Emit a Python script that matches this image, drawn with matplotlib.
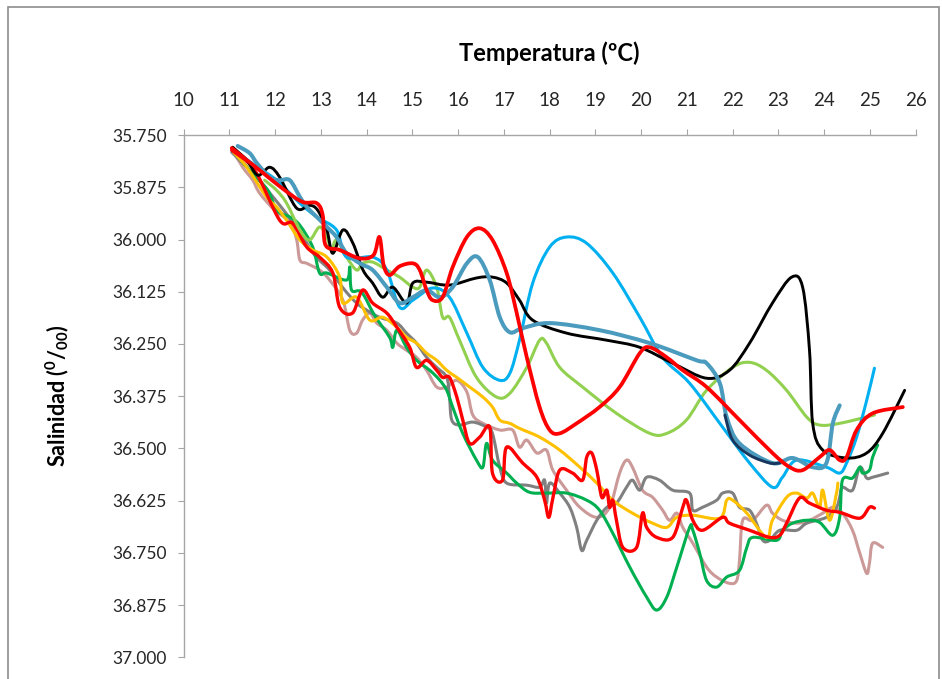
import numpy as np
import matplotlib.pyplot as plt
from matplotlib.patches import Rectangle, PathPatch
from matplotlib.path import Path
from matplotlib.ticker import FormatStrFormatter, MultipleLocator

plt.rcParams['font.family'] = ['Lato', 'DejaVu Sans']
plt.rcParams['mathtext.fontset'] = 'custom'
plt.rcParams['mathtext.bf'] = 'Lato:bold'
plt.rcParams['mathtext.rm'] = 'Lato:bold'

# perfiles T-S (temperatura ºC, salinidad)
negro_t = [11.07, 11.38, 11.62, 11.88, 12.10, 12.47, 12.75, 12.93, 13.13, 13.26, 13.48, 13.70, 13.92,
           14.13, 14.35, 14.57, 14.87, 15.01, 15.31, 15.81, 16.40, 16.75, 17.06, 17.34, 17.63, 18.37,
           19.25, 19.97, 20.69, 21.43, 21.93, 22.37, 22.87, 23.29, 23.53, 23.68, 23.75, 23.97, 24.49,
           24.93, 25.28, 25.76]
negro_s = [35.779, 35.810, 35.846, 35.827, 35.851, 35.925, 35.918, 35.930, 35.977, 36.033, 35.977,
           36.009, 36.073, 36.104, 36.138, 36.114, 36.152, 36.104, 36.102, 36.109, 36.092, 36.090,
           36.104, 36.145, 36.193, 36.224, 36.241, 36.258, 36.296, 36.332, 36.313, 36.248, 36.152,
           36.090, 36.114, 36.265, 36.440, 36.504, 36.523, 36.511, 36.464, 36.361]

acero_t = [11.18, 11.44, 11.60, 11.88, 12.10, 12.32, 12.54, 12.69, 12.91, 13.13, 13.34, 13.56, 13.85,
           14.13, 14.44, 14.72, 15.01, 15.31, 15.60, 15.88, 16.19, 16.43, 16.69, 16.91, 17.13, 17.41,
           18.00, 19.09, 20.19, 21.21, 21.43, 21.72, 21.87, 22.15, 22.87, 23.31, 23.75, 24.05, 24.19,
           24.34]
acero_s = [35.776, 35.793, 35.817, 35.851, 35.858, 35.858, 35.898, 35.922, 35.946, 35.970, 35.994,
           36.033, 36.057, 36.073, 36.114, 36.152, 36.138, 36.121, 36.138, 36.114, 36.057, 36.042,
           36.097, 36.186, 36.222, 36.212, 36.200, 36.217, 36.248, 36.289, 36.296, 36.344, 36.425,
           36.488, 36.535, 36.523, 36.545, 36.535, 36.440, 36.397]

marino_t = [21.83, 22.00, 22.37, 22.81, 23.03]
marino_s = [36.420, 36.480, 36.516, 36.535, 36.535]

celeste_t = [11.11, 11.55, 12.03, 12.54, 12.91, 13.34, 13.56, 14.13, 14.44, 14.72, 15.01, 15.44, 15.81,
             16.19, 16.54, 16.91, 17.13, 17.34, 17.63, 18.00, 18.37, 18.81, 19.38, 19.97, 20.47, 21.06,
             21.78, 22.37, 22.87, 23.09, 23.40, 24.05, 24.34, 24.49, 24.71, 24.93, 25.10]
celeste_s = [35.786, 35.822, 35.858, 35.913, 35.946, 35.977, 36.042, 36.042, 36.073, 36.162, 36.145,
             36.116, 36.138, 36.224, 36.306, 36.337, 36.320, 36.241, 36.104, 36.018, 35.994, 36.009,
             36.080, 36.186, 36.282, 36.344, 36.449, 36.535, 36.593, 36.569, 36.528, 36.545, 36.559,
             36.535, 36.473, 36.385, 36.308]

rojo1_t = [11.05, 11.66, 12.21, 12.60, 12.91, 13.04, 13.10, 13.41, 13.85, 14.15, 14.28, 14.37, 14.50,
           14.72, 15.01, 15.16, 15.31, 15.44, 15.66, 15.88, 16.19, 16.47, 16.75, 17.06, 17.28, 17.50,
           17.78, 18.00, 18.22, 18.59, 19.09, 19.53, 19.97, 20.19, 20.56, 20.91, 21.43, 22.15, 22.87,
           23.25, 23.53, 23.90, 24.12, 24.34, 24.49, 24.71, 25.06, 25.72]
rojo1_s = [35.781, 35.834, 35.882, 35.910, 35.913, 35.942, 36.013, 36.025, 36.045, 36.037, 35.994,
           36.061, 36.085, 36.064, 36.057, 36.073, 36.121, 36.145, 36.138, 36.066, 35.994, 35.973,
           36.001, 36.080, 36.176, 36.282, 36.401, 36.456, 36.464, 36.440, 36.401, 36.353, 36.272,
           36.258, 36.282, 36.313, 36.353, 36.432, 36.511, 36.545, 36.552, 36.521, 36.504, 36.528,
           36.521, 36.456, 36.416, 36.401]

rojo2_t = [11.05, 11.55, 12.10, 12.38, 12.69, 12.97, 13.26, 13.41, 13.69, 13.91, 14.13, 14.44, 14.66,
           14.94, 15.09, 15.31, 15.53, 15.66, 15.81, 15.97, 16.10, 16.25, 16.47, 16.69, 16.75, 16.97,
           17.06, 17.41, 17.72, 17.89, 17.98, 18.07, 18.22, 18.50, 18.72, 18.81, 18.92, 19.03, 19.14,
           19.25, 19.31, 19.38, 19.46, 19.60, 19.90, 20.03, 20.12, 20.34, 20.69, 20.91, 20.99, 21.13,
           21.34, 21.78, 21.93, 22.37, 22.81, 23.03, 23.18, 23.46, 23.68, 24.05, 24.34, 24.78, 24.99,
           25.10]
rojo2_s = [35.786, 35.834, 35.954, 35.961, 36.018, 36.042, 36.080, 36.162, 36.176, 36.121, 36.152,
           36.176, 36.210, 36.258, 36.306, 36.289, 36.313, 36.330, 36.330, 36.377, 36.432, 36.488,
           36.473, 36.449, 36.559, 36.576, 36.497, 36.535, 36.569, 36.624, 36.665, 36.619, 36.552,
           36.559, 36.576, 36.521, 36.511, 36.552, 36.617, 36.600, 36.641, 36.624, 36.672, 36.737,
           36.737, 36.655, 36.689, 36.713, 36.713, 36.641, 36.624, 36.672, 36.696, 36.665, 36.679,
           36.696, 36.713, 36.708, 36.679, 36.619, 36.631, 36.648, 36.653, 36.667, 36.641, 36.643]

lima_t = [11.77, 12.03, 12.25, 12.54, 12.75, 12.97, 13.13, 13.23, 13.34, 13.56, 13.78, 13.91, 14.13,
          14.44, 14.72, 15.01, 15.16, 15.31, 15.53, 15.66, 15.81, 16.03, 16.40, 16.84, 17.13, 17.50,
          17.78, 17.93, 18.22, 18.72, 19.46, 20.19, 20.56, 20.99, 21.43, 22.00, 22.37, 22.74, 23.18,
          23.62, 23.90, 24.34, 25.10]
lima_s = [35.858, 35.882, 35.913, 35.977, 36.001, 35.970, 35.994, 36.025, 36.001, 36.042, 36.073,
          36.057, 36.054, 36.073, 36.090, 36.114, 36.114, 36.073, 36.114, 36.186, 36.186, 36.241,
          36.330, 36.377, 36.368, 36.306, 36.241, 36.248, 36.306, 36.353, 36.416, 36.464, 36.464,
          36.432, 36.361, 36.306, 36.294, 36.313, 36.361, 36.425, 36.444, 36.440, 36.420]

naranja_t = [11.09, 11.38, 11.81, 12.03, 12.25, 12.54, 12.82, 13.13, 13.41, 13.48, 13.78, 14.07, 14.35,
             14.66, 14.87, 15.09, 15.31, 15.53, 15.75, 15.97, 16.25, 16.54, 16.75, 16.91, 17.13, 17.34,
             17.78, 18.22, 18.66, 19.03, 19.38, 19.81, 20.25, 20.56, 20.78, 21.13, 21.72, 21.87, 22.00,
             22.31, 22.74, 22.87, 23.18, 23.40, 23.62, 23.75, 23.90, 23.97, 24.12, 24.27, 24.30]
naranja_s = [35.791, 35.827, 35.898, 35.922, 35.954, 36.001, 36.025, 36.042, 36.090, 36.152, 36.138,
             36.193, 36.186, 36.210, 36.234, 36.248, 36.272, 36.289, 36.313, 36.330, 36.353, 36.377,
             36.401, 36.432, 36.440, 36.452, 36.473, 36.504, 36.545, 36.583, 36.624, 36.655, 36.679,
             36.689, 36.665, 36.660, 36.667, 36.624, 36.624, 36.655, 36.713, 36.672, 36.617, 36.607,
             36.619, 36.607, 36.641, 36.600, 36.672, 36.607, 36.583]

verde_t = [11.07, 11.44, 11.84, 12.03, 12.32, 12.54, 12.82, 12.97, 13.13, 13.56, 13.63, 13.67, 13.89,
           14.17, 14.50, 14.57, 14.66, 14.87, 15.09, 15.38, 15.60, 15.75, 15.88, 16.10, 16.40, 16.54,
           16.62, 16.75, 17.06, 17.28, 17.56, 17.93, 18.37, 18.81, 19.09, 19.38, 19.75, 20.12, 20.34,
           20.56, 20.78, 21.06, 21.13, 21.28, 21.43, 21.65, 21.87, 22.15, 22.31, 22.44, 22.96, 23.09,
           23.31, 23.62, 23.90, 24.19, 24.34, 24.40, 24.62, 24.78, 24.84, 24.99, 25.06, 25.17]
verde_s = [35.786, 35.834, 35.882, 35.930, 35.946, 35.966, 36.018, 36.080, 36.080, 36.097, 36.066,
           36.121, 36.126, 36.181, 36.234, 36.258, 36.217, 36.258, 36.289, 36.313, 36.337, 36.361,
           36.401, 36.464, 36.528, 36.545, 36.488, 36.528, 36.559, 36.583, 36.605, 36.607, 36.607,
           36.624, 36.648, 36.703, 36.784, 36.856, 36.887, 36.856, 36.784, 36.689, 36.696, 36.751,
           36.816, 36.832, 36.808, 36.792, 36.737, 36.713, 36.720, 36.696, 36.679, 36.672, 36.677,
           36.708, 36.665, 36.576, 36.571, 36.545, 36.559, 36.552, 36.521, 36.492]

gris_t = [11.05, 11.55, 12.10, 12.54, 12.86, 13.19, 13.52, 13.78, 14.00, 14.28, 14.66, 14.87, 15.09,
          15.31, 15.53, 15.75, 15.81, 15.86, 16.03, 16.32, 16.62, 16.75, 16.91, 17.06, 17.50, 17.78,
          17.89, 17.93, 18.00, 18.22, 18.44, 18.59, 18.70, 18.81, 19.03, 19.25, 19.46, 19.68, 19.81,
          19.97, 20.12, 20.40, 20.69, 21.06, 21.13, 21.34, 21.65, 21.78, 22.00, 22.15, 22.37, 22.52,
          22.66, 22.81, 23.03, 23.40, 23.62, 24.05, 24.27, 24.34, 24.40, 24.62, 24.78, 24.93, 25.06,
          25.39]
gris_s = [35.791, 35.846, 35.918, 35.982, 36.037, 36.073, 36.121, 36.152, 36.169, 36.186, 36.200,
          36.224, 36.248, 36.282, 36.306, 36.330, 36.377, 36.432, 36.444, 36.437, 36.449, 36.464,
          36.545, 36.583, 36.588, 36.593, 36.576, 36.631, 36.583, 36.607, 36.641, 36.689, 36.744,
          36.720, 36.672, 36.641, 36.631, 36.593, 36.576, 36.600, 36.569, 36.576, 36.600, 36.607,
          36.648, 36.641, 36.624, 36.607, 36.607, 36.641, 36.648, 36.679, 36.720, 36.720, 36.696,
          36.696, 36.679, 36.665, 36.641, 36.617, 36.593, 36.600, 36.545, 36.571, 36.569, 36.559]

rosa_t = [11.07, 11.29, 11.51, 11.66, 11.99, 12.32, 12.47, 12.54, 12.69, 12.97, 13.19, 13.48, 13.63,
          13.78, 13.91, 14.07, 14.22, 14.44, 14.66, 14.87, 15.09, 15.31, 15.53, 15.75, 15.97, 16.19,
          16.32, 16.54, 16.91, 17.19, 17.34, 17.50, 17.72, 17.93, 18.07, 18.37, 18.66, 19.03, 19.31,
          19.53, 19.68, 19.81, 20.03, 20.25, 20.47, 20.62, 20.78, 20.91, 21.13, 21.43, 21.65, 21.93,
          22.09, 22.15, 22.22, 22.44, 22.74, 22.87, 23.09, 23.40, 23.68, 23.97, 24.19, 24.40, 24.62,
          24.78, 24.93, 24.99, 25.06, 25.28]
rosa_s = [35.786, 35.827, 35.858, 35.889, 35.930, 35.958, 36.001, 36.049, 36.057, 36.073, 36.097,
          36.145, 36.217, 36.224, 36.193, 36.176, 36.200, 36.217, 36.248, 36.265, 36.282, 36.313,
          36.353, 36.353, 36.337, 36.365, 36.420, 36.440, 36.456, 36.456, 36.497, 36.480, 36.511,
          36.504, 36.552, 36.600, 36.641, 36.665, 36.641, 36.559, 36.528, 36.545, 36.600, 36.617,
          36.648, 36.672, 36.655, 36.689, 36.727, 36.784, 36.808, 36.823, 36.816, 36.768, 36.672,
          36.672, 36.636, 36.655, 36.672, 36.679, 36.672, 36.655, 36.641, 36.655, 36.696, 36.751,
          36.799, 36.775, 36.727, 36.737]


def linea_suave(ax, t, s, color, lw):
    # línea suavizada (Bézier por los puntos, como "línea suavizada" de Excel)
    p = np.column_stack([t, s])
    ext = np.vstack([p[0], p, p[-1]])
    verts = [p[0]]
    codes = [Path.MOVETO]
    for i in range(len(p) - 1):
        c1 = ext[i + 1] + (ext[i + 2] - ext[i]) / 6.0
        c2 = ext[i + 2] - (ext[i + 3] - ext[i + 1]) / 6.0
        verts += [c1, c2, p[i + 1]]
        codes += [Path.CURVE4] * 3
    ax.add_patch(PathPatch(Path(verts, codes), fill=False, edgecolor=color, lw=lw,
                           joinstyle='round', capstyle='round'))


fig = plt.figure(figsize=(9.42, 6.79), dpi=100)
ax = fig.add_axes([0.195, 0.032, 0.777, 0.769])

# marco del gráfico
fig.patches.append(Rectangle((8 / 942, -0.02), 931 / 942, 1 - 7 / 679 + 0.02,
                             transform=fig.transFigure, fill=False,
                             edgecolor='#8c8c8c', linewidth=1.2))

linea_suave(ax, rosa_t, rosa_s, '#CC9999', 2.2)
linea_suave(ax, gris_t, gris_s, '#808080', 2.2)
linea_suave(ax, verde_t, verde_s, '#00B050', 2.2)
linea_suave(ax, naranja_t, naranja_s, '#FFC000', 2.2)
linea_suave(ax, rojo2_t, rojo2_s, '#FF0000', 2.4)
linea_suave(ax, lima_t, lima_s, '#92D050', 2.2)
linea_suave(ax, celeste_t, celeste_s, '#00B0F0', 2.2)
linea_suave(ax, negro_t, negro_s, '#000000', 2.1)
linea_suave(ax, acero_t, acero_s, '#4A9BBD', 2.9)
linea_suave(ax, marino_t, marino_s, '#17375E', 2.1)
linea_suave(ax, rojo1_t, rojo1_s, '#FF0000', 2.7)

ax.set_xlim(10, 26)
ax.set_ylim(37.0, 35.75)
ax.xaxis.set_major_locator(MultipleLocator(1))
ax.yaxis.set_major_locator(MultipleLocator(0.125))
ax.yaxis.set_major_formatter(FormatStrFormatter('%.3f'))
ax.xaxis.tick_top()
ax.xaxis.set_label_position('top')

for lado in ['right', 'bottom']:
    ax.spines[lado].set_visible(False)
for lado in ['left', 'top']:
    ax.spines[lado].set_color('#a6a6a6')
    ax.spines[lado].set_linewidth(1.0)

ax.tick_params(axis='both', direction='out', length=4, width=0.8, color='#a6a6a6',
               labelcolor='#262626')
ax.tick_params(axis='x', pad=15, labelsize=13.5)
ax.tick_params(axis='y', pad=8, labelsize=12.5)

ax.set_xlabel('Temperatura (ºC)', fontsize=17, fontweight='bold', labelpad=22)
ax.set_ylabel(r'Salinidad ($^{0}$/$_{00}$)', fontsize=15.5, fontweight='bold', labelpad=30)

fig.savefig('out.png', dpi=100, facecolor='white')
